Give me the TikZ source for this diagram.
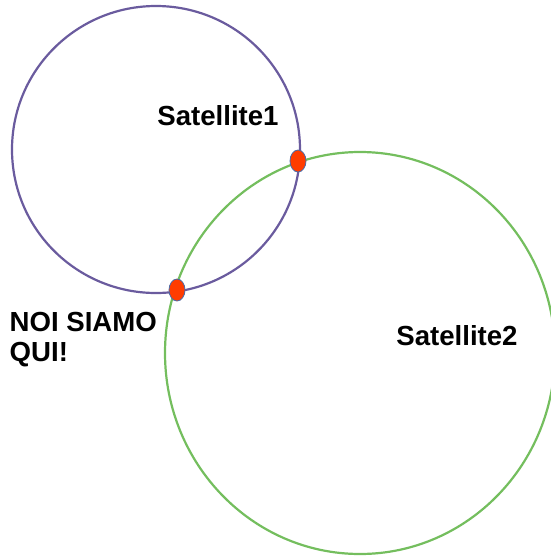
\documentclass[tikz,border=0pt]{standalone}
\usepackage{fontspec}
\setmainfont{Liberation Sans}
\usetikzlibrary{shapes.geometric}
\definecolor{orbitone}{HTML}{6A5B9E}
\definecolor{orbittwo}{HTML}{74BE5E}
\definecolor{dotred}{HTML}{FF3C00}
\definecolor{dotedge}{HTML}{4A6AA8}
\begin{document}
\begin{tikzpicture}[x=1pt, y=-1pt, font=\fontsize{27.6}{30}\selectfont\bfseries, line join=round, line cap=round]
				\useasboundingbox (0,0) rectangle (551,558);
				\draw[orbitone, line width=2.2pt] (156,149.5) ellipse (144 and 143.5);
				\draw[orbittwo, line width=2.2pt] (360,353) ellipse (195 and 201);
				\node (sat1) at (218,116) {Satellite1};
				\node (sat2) at (457,336) {Satellite2};
				\node[anchor=north west, align=left, inner sep=0pt] (noi) at (9.5,312.5) {NOI SIAMO\\QUI!};
				\foreach \p/\q in {pa/{(298,161)}, pb/{(177,290)}} \node[ellipse, fill=dotred, draw=dotedge, line width=0.8pt, minimum width=16pt, minimum height=22pt, inner sep=0pt] (\p) at \q {};
			\end{tikzpicture}
\end{document}
